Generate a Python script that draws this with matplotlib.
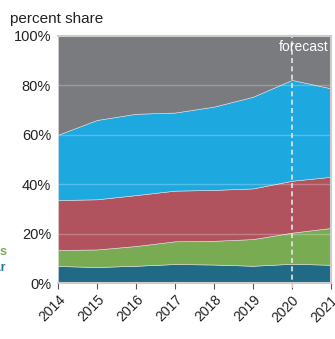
import matplotlib.pyplot as plt
import numpy as np

plt.rcParams["font.family"] = ["Liberation Sans", "DejaVu Sans"]

years = [2014, 2015, 2016, 2017, 2018, 2019, 2020, 2021]
# cumulative tops of each band, percent
top_teal = [6.9, 6.5, 7.0, 7.7, 7.5, 7.0, 7.8, 7.4]
top_green = [13.4, 13.6, 15.0, 16.9, 17.1, 17.8, 20.4, 22.3]
top_red = [33.6, 33.9, 35.6, 37.4, 37.7, 38.3, 41.4, 43.0]
top_blue = [60.0, 66.0, 68.5, 69.0, 71.4, 75.4, 82.2, 78.8]
top_gray = [100, 100, 100, 100, 100, 100, 100, 100]
forecast_year = 2020

colors = ["#206a86", "#78ab52", "#b0535f", "#1ea8e0", "#7a7b7f"]

tops = np.array([top_teal, top_green, top_red, top_blue, top_gray])
shares = np.diff(np.vstack([np.zeros(len(years)), tops]), axis=0)

fig = plt.figure(figsize=(3.35, 3.39), dpi=100)
ax = fig.add_axes([0.173, 0.165, 0.815, 0.729])

ax.stackplot(years, shares, colors=colors, linewidth=0.4, edgecolor="#dddddd")

for y in [20, 40, 60, 80]:
    ax.axhline(y, color="white", alpha=0.25, lw=1)

ax.axvline(forecast_year, color="#e6e6e6", ls=(0, (3, 2)), lw=1.2, ymin=-0.02, clip_on=False)
ax.text(2020.95, 95.5, "forecast", color="white", fontsize=10, ha="right", va="center")

ax.set_xlim(2014, 2021)
ax.set_ylim(0, 100)
ax.set_yticks([0, 20, 40, 60, 80, 100])
ax.set_yticklabels(["0%", "20%", "40%", "60%", "80%", "100%"], fontsize=10.5, color="#222222")
ax.set_xticks(years)
ax.set_xticklabels([str(y) for y in years], rotation=45, ha="right", rotation_mode="anchor", fontsize=10, color="#222222")
ax.tick_params(axis="y", length=0, pad=5)
ax.tick_params(axis="x", length=4, color="#555555", pad=3)

ax.spines["left"].set_visible(False)
for s in ["top", "right", "bottom"]:
    ax.spines[s].set_color("#cccccc")
    ax.spines[s].set_linewidth(1.5)

fig.text(0.03, 0.945, "percent share", fontsize=11, color="#222222", va="center")

# series labels sitting off to the left
fig.text(0.02, 0.258, "renewables", fontsize=9, fontweight="bold", color="#78ab52", ha="right", va="center")
fig.text(0.017, 0.21, "nuclear", fontsize=9, fontweight="bold", color="#1f7ba6", ha="right", va="center")
fig.text(0.001, 0.598, "natural gas", fontsize=9, fontweight="bold", color="#1ea8e0", ha="right", va="center")

fig.savefig("out.png", dpi=100)
